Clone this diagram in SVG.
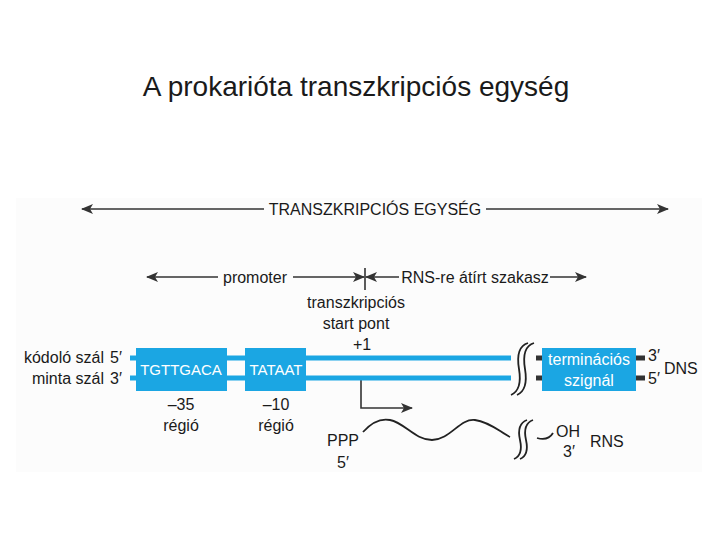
<svg xmlns="http://www.w3.org/2000/svg" width="720" height="540" viewBox="0 0 720 540">
<style>
text{font-family:"Liberation Sans",Arial,sans-serif;fill:#1a1a1a}
.lbl{font-size:16px}
.box{fill:#1ba6e3}
.strand{stroke:#1ba6e3;stroke-width:5;fill:none}
.wt{fill:#fff;font-size:16px}
.ws{fill:#fff;font-size:15px}
.ln{stroke:#333;stroke-width:1.6;fill:none}
.brk{stroke:#222;stroke-width:1.8;fill:none}
.stub{stroke:#333;stroke-width:5}
</style>
<defs>
<marker id="ah" viewBox="0 0 12 10" refX="11" refY="5" markerWidth="12" markerHeight="10" markerUnits="userSpaceOnUse" orient="auto-start-reverse">
<path d="M0,0 L12,5 L0,10 L3,5 Z" fill="#333"/>
</marker>
</defs>
<rect width="720" height="540" fill="#fff"/>
<rect x="16" y="198" width="686" height="274" fill="#fcfcfc"/>
<text x="356" y="96" font-size="28" text-anchor="middle">A prokarióta transzkripciós egység</text>

<g id="connectors">
<path class="ln" d="M264,209 H82" marker-end="url(#ah)"/>
<path class="ln" d="M486,209 H668" marker-end="url(#ah)"/>
<path class="ln" d="M218,277 H147" marker-end="url(#ah)"/>
<path class="ln" d="M293,277 H364" marker-end="url(#ah)"/>
<path class="ln" d="M365,268 V290"/>
<path class="ln" d="M399,277 H366" marker-end="url(#ah)"/>
<path class="ln" d="M550,277 H586" marker-end="url(#ah)"/>
<path class="ln" d="M361,378 V408 H412" marker-end="url(#ah)"/>
</g>

<g id="labels">
<text x="375" y="215" font-size="16" text-anchor="middle">TRANSZKRIPCIÓS EGYSÉG</text>
<text x="255" y="283" class="lbl" text-anchor="middle">promoter</text>
<text x="475" y="283" class="lbl" text-anchor="middle">RNS-re átírt szakasz</text>
<text x="356" y="308" class="lbl" text-anchor="middle">transzkripciós</text>
<text x="356" y="329" class="lbl" text-anchor="middle">start pont</text>
<text x="362" y="350" class="lbl" text-anchor="middle">+1</text>
</g>

<g id="dna">
<text x="104" y="363" class="lbl" text-anchor="end">kódoló szál</text>
<text x="110" y="363" class="lbl">5′</text>
<text x="104" y="384" class="lbl" text-anchor="end">minta szál</text>
<text x="110" y="384" class="lbl">3′</text>
<line class="strand" x1="130" y1="358" x2="511" y2="358"/>
<line class="strand" x1="130" y1="378" x2="511" y2="378"/>
<path class="brk" d="M528,343 C518,346 517,357 519,369 C521,381 520,391 511,395"/>
<path class="brk" d="M534,343 C524,346 523,357 525,369 C527,381 526,391 517,395"/>
<line class="stub" x1="536" y1="358" x2="542" y2="358"/>
<line class="stub" x1="536" y1="378" x2="542" y2="378"/>
<line class="stub" x1="636" y1="358" x2="645" y2="358"/>
<line class="stub" x1="636" y1="378" x2="645" y2="378"/>
<text x="648" y="361" class="lbl">3′</text>
<text x="648" y="384" class="lbl">5′</text>
<text x="664" y="374" class="lbl">DNS</text>
</g>

<g id="box35">
<rect class="box" x="136" y="348" width="91" height="43"/>
<text x="181" y="375" class="ws" text-anchor="middle">TGTTGACA</text>
<text x="181" y="410" class="lbl" text-anchor="middle">–35</text>
<text x="181" y="431" class="lbl" text-anchor="middle">régió</text>
</g>

<g id="box10">
<rect class="box" x="245" y="348" width="61" height="43"/>
<text x="276" y="375" class="ws" text-anchor="middle">TATAAT</text>
<text x="276" y="410" class="lbl" text-anchor="middle">–10</text>
<text x="276" y="431" class="lbl" text-anchor="middle">régió</text>
</g>

<g id="term">
<rect class="box" x="542" y="348" width="94" height="43"/>
<text x="589" y="365" class="wt" text-anchor="middle">terminációs</text>
<text x="589" y="386" class="wt" text-anchor="middle">szignál</text>
</g>

<g id="rna">
<path class="brk" d="M363,432 C372,422 380,418 390,420 C405,423 415,440 432,440 C450,440 460,418 475,420 C490,422 500,432 510,437"/>
<path class="brk" d="M527,420 C519,423 518,431 520,440 C522,449 521,456 514,459"/>
<path class="brk" d="M533,420 C525,423 524,431 526,440 C528,449 527,456 520,459"/>
<path class="brk" d="M537,438 C544,440 550,438 553,433"/>
<text x="343" y="446" class="lbl" text-anchor="middle">PPP</text>
<text x="343" y="468" class="lbl" text-anchor="middle">5′</text>
<text x="556" y="437" class="lbl">OH</text>
<text x="563" y="457" class="lbl">3′</text>
<text x="590" y="447" class="lbl">RNS</text>
</g>
</svg>
